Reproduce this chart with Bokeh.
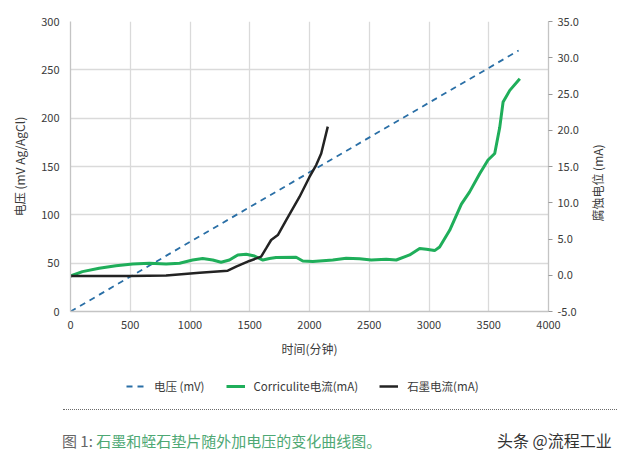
import math
from bokeh.plotting import figure
from bokeh.models import (Range1d, LinearAxis, FixedTicker, Legend, LegendItem,
                          Div, NumeralTickFormatter)
from bokeh.layouts import column, row
from bokeh.embed import file_html
from bokeh.resources import INLINE

# ---------------- data ----------------
x_ticks = [0, 500, 1000, 1500, 2000, 2500, 3000, 3500, 4000]
left_ticks = [0, 50, 100, 150, 200, 250, 300]
right_ticks = [-5, 0, 5, 10, 15, 20, 25, 30, 35]

voltage_time = [0, 3750]
voltage_mv = [0, 270]

graphite_time = [0, 500, 800, 1080, 1316, 1386, 1497, 1595, 1637, 1679, 1735,
                 1805, 1916, 2000, 2056, 2098, 2153]
graphite_ma = [-0.1, -0.1, -0.05, 0.36, 0.63, 1.18, 1.97, 2.56, 3.7, 4.86, 5.54,
               7.6, 10.8, 13.56, 15.2, 16.8, 20.5]

corr_time = [0, 100, 240, 380, 520, 660, 800, 913, 1022, 1106, 1190, 1260, 1330,
             1400, 1470, 1540, 1610, 1665, 1720, 1888, 1944, 2028, 2195, 2307,
             2419, 2517, 2642, 2726, 2838, 2922, 2978, 3047, 3089, 3173, 3271,
             3340, 3424, 3494, 3550, 3592, 3620, 3676, 3760]
corr_ma = [-0.1, 0.5, 0.96, 1.32, 1.55, 1.65, 1.55, 1.65, 2.1, 2.3, 2.1, 1.79, 2.1,
           2.8, 2.9, 2.65, 2.1, 2.3, 2.45, 2.48, 1.97, 1.88, 2.1, 2.34,
           2.28, 2.1, 2.2, 2.1, 2.8, 3.7, 3.6, 3.4, 3.9, 6.2, 9.8,
           11.5, 14.0, 15.9, 16.8, 20.4, 23.9, 25.5, 27.1]

labels = ["电压 (mV)", "Corriculite电流(mA)", "石墨电流(mA)"]
right_label = "腐蚀电位 (mA)"

# ---------------- styles ----------------
FONT = "'Noto Sans CJK SC', sans-serif"
TXT = "#3a3a3a"
AXIS = "#c4c4c4"
GRID = "#dadada"
C_V, C_C, C_G = "#2a6fa6", "#1fae5a", "#232323"
W = 610
PW = 588
PH = 362

p = figure(width=PW, height=PH, x_range=Range1d(0, 4000), y_range=Range1d(0, 300),
           output_backend="svg", toolbar_location=None,
           min_border_left=70, min_border_right=PW - 548, min_border_top=21,
           min_border_bottom=51)
p.outline_line_color = None
p.extra_y_ranges = {"ma": Range1d(-5, 35)}

# grids
p.xgrid.ticker = FixedTicker(ticks=x_ticks)
p.ygrid.ticker = FixedTicker(ticks=left_ticks)
p.grid.grid_line_color = GRID
p.grid.grid_line_width = 1.3

def style_axis(ax):
    ax.axis_line_color = AXIS
    ax.axis_line_width = 1.3
    ax.minor_tick_line_color = None
    ax.major_label_text_font = FONT
    ax.major_label_text_font_size = "11px"
    ax.major_label_text_color = TXT
    ax.axis_label_text_font = FONT
    ax.axis_label_text_font_size = "12px"
    ax.axis_label_text_color = TXT
    ax.axis_label_text_font_style = "normal"

# x axis
xa = p.xaxis[0]
xa.ticker = FixedTicker(ticks=x_ticks)
style_axis(xa)
xa.major_tick_line_color = None
xa.major_label_standoff = 3
xa.axis_label = "时间(分钟)"
xa.axis_label_standoff = 8

# left axis
ya = p.yaxis[0]
ya.ticker = FixedTicker(ticks=left_ticks)
style_axis(ya)
ya.major_tick_line_color = None
ya.major_label_standoff = 5
ya.axis_label = "电压 (mV Ag/AgCl)"
ya.axis_label_standoff = 10

# right axis (its title is drawn in the strip to the right, reading bottom-to-top)
ra = LinearAxis(y_range_name="ma", ticker=FixedTicker(ticks=right_ticks),
                formatter=NumeralTickFormatter(format="0.0"))
style_axis(ra)
ra.major_tick_line_color = "#999999"
ra.major_tick_out = 4
ra.major_tick_in = 0
ra.major_label_standoff = 5
p.add_layout(ra, "right")

# lines
r_v = p.line(voltage_time, voltage_mv, line_color=C_V, line_dash="6 5", line_width=1.8)
r_c = p.line(corr_time, corr_ma, y_range_name="ma", line_color=C_C, line_width=3)
r_g = p.line(graphite_time, graphite_ma, y_range_name="ma", line_color=C_G,
             line_width=2.5)

rdiv = Div(text=f"""<div style="position:relative;width:22px;height:{PH}px;">
<div style="position:absolute;left:10px;top:183px;transform:translate(-50%,-50%) rotate(-90deg);
white-space:nowrap;font-family:'Noto Sans CJK SC';font-size:12px;line-height:14px;color:{TXT};">{right_label}</div>
</div>""", width=W - PW, height=PH, margin=(0, 0, 0, 0))

# legend row (separate strip below the chart; dummy renderers sit outside its ranges)
pl = figure(width=W, height=38, x_range=Range1d(0, 1), y_range=Range1d(0, 1),
            output_backend="svg", toolbar_location=None,
            min_border_left=70, min_border_right=W - 548, min_border_top=0,
            min_border_bottom=0, x_axis_location=None, y_axis_location=None)
pl.outline_line_color = None
pl.grid.visible = False
lv = pl.line([-9, -8], [-9, -8], line_color=C_V, line_dash="6 5", line_width=1.8)
lc = pl.line([-9, -8], [-9, -8], line_color=C_C, line_width=3)
lg = pl.line([-9, -8], [-9, -8], line_color=C_G, line_width=2.5)
legend = Legend(items=[LegendItem(label=labels[0], renderers=[lv]),
                       LegendItem(label=labels[1], renderers=[lc]),
                       LegendItem(label=labels[2], renderers=[lg])],
                orientation="horizontal", location=(56, 4), padding=0, margin=0,
                spacing=21, glyph_width=19, label_standoff=9,
                border_line_color=None, background_fill_alpha=0,
                label_text_font=FONT, label_text_font_size="11.5px",
                label_text_color=TXT)
pl.add_layout(legend, "center")

html = """<div style="position:relative;width:610px;height:51px;">
<div style="position:absolute;left:63px;top:9px;width:554px;border-top:1.5px dotted #6a6a6a;"></div>
<div style="position:absolute;left:62px;top:32px;font-family:'Noto Sans CJK SC';font-size:15px;line-height:18px;white-space:nowrap;"><span style="color:#666666">图 1: </span><span style="color:#4ea874">石墨和蛭石垫片随外加电压的变化曲线图。</span></div>
<div style="position:absolute;left:497px;top:31px;font-family:'Noto Sans CJK SC';font-size:16px;line-height:18px;color:#333333;white-space:nowrap;">头条 @流程工业</div>
</div>"""
div = Div(text=html, width=W, height=51, margin=(0, 0, 0, 0))

layout = column(row(p, rdiv, spacing=0), pl, div, spacing=0)
open("out.html", "w").write(file_html(layout, INLINE))
